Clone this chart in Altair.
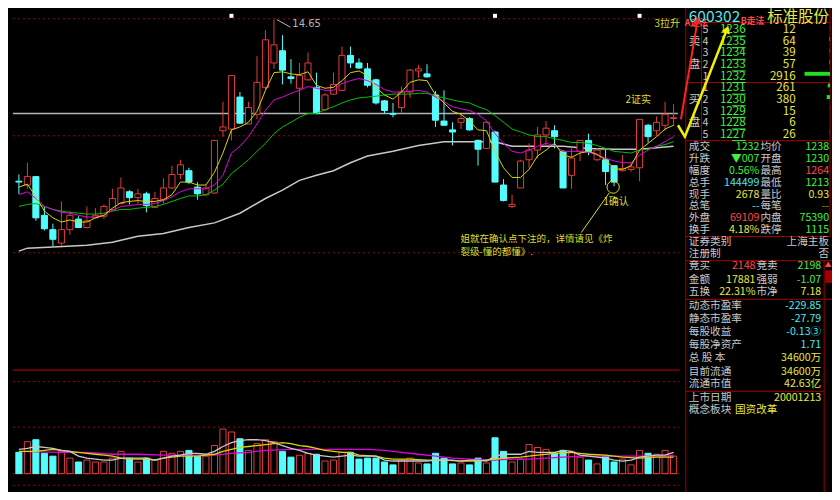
import altair as alt
import pandas as pd

# ================= DATA =================
# daily candles, price in yuan (index 0 = leftmost visible day)
OPEN = [10.81, 10.72, 10.92, 10.00, 9.66, 9.34, 9.66, 9.91, 9.71, 9.94,
        9.98, 10.14, 10.28, 10.56, 10.42, 10.51, 10.19, 10.37, 10.65, 10.97,
        11.06, 10.67, 10.49, 10.53, 12.01, 12.05, 12.81, 12.17, 12.40, 13.04,
        13.62, 13.91, 13.29, 13.02, 13.22, 13.04, 12.51, 12.88, 12.97, 13.80,
        13.62, 13.48, 13.22, 12.72, 12.42, 12.56, 12.93, 13.43, 13.36, 12.86,
        12.24, 12.03, 12.21, 12.30, 11.78, 11.59, 11.98, 10.72, 10.21, 10.65,
        11.32, 11.55, 11.91, 12.01, 11.52, 10.95, 11.52, 11.78, 11.32, 11.32,
        11.18, 11.06, 11.09, 11.13, 12.14, 12.01, 12.14, 12.30]
HIGH = [10.97, 11.25, 10.92, 10.21, 9.80, 10.33, 10.10, 9.98, 10.21, 10.17,
        10.26, 10.63, 10.90, 10.60, 10.63, 10.56, 10.56, 10.88, 11.18, 11.32,
        11.13, 10.79, 10.72, 11.78, 12.70, 13.32, 12.93, 12.70, 13.78, 14.40,
        14.65, 14.28, 13.71, 13.62, 13.87, 13.39, 12.90, 13.39, 14.01, 14.01,
        13.73, 13.62, 13.25, 12.74, 12.67, 13.06, 13.48, 13.57, 13.59, 12.95,
        12.97, 12.21, 12.40, 12.33, 11.80, 12.24, 12.01, 10.86, 10.49, 11.32,
        11.71, 12.10, 12.24, 12.14, 11.55, 11.59, 11.78, 11.94, 11.59, 11.55,
        11.18, 11.43, 11.25, 12.28, 12.17, 12.35, 12.70, 12.64]
LOW = [10.51, 10.63, 9.87, 9.64, 9.27, 9.27, 9.54, 9.71, 9.71, 9.94,
       9.91, 10.10, 10.26, 10.26, 10.28, 10.07, 10.17, 10.28, 10.63, 10.86,
       10.74, 10.37, 10.46, 10.51, 11.87, 11.78, 12.17, 12.17, 12.28, 12.97,
       13.48, 13.11, 13.13, 12.40, 13.20, 12.40, 12.47, 12.86, 12.95, 13.50,
       13.48, 13.04, 12.63, 12.42, 12.33, 12.44, 12.79, 13.27, 13.27, 12.10,
       12.14, 11.66, 12.05, 12.01, 11.18, 11.59, 10.79, 10.33, 10.17, 10.65,
       11.13, 11.36, 11.66, 11.59, 10.65, 10.63, 11.29, 11.43, 11.29, 10.72,
       10.69, 11.04, 11.04, 10.81, 11.73, 11.89, 12.01, 12.13]
CLOSE = [10.79, 10.92, 9.94, 9.68, 9.43, 9.66, 10.00, 9.71, 9.87, 10.00,
         10.21, 10.40, 10.65, 10.42, 10.51, 10.23, 10.40, 10.65, 10.97, 11.20,
         10.79, 10.51, 10.65, 11.78, 12.10, 13.32, 12.19, 12.56, 13.16, 14.17,
         14.05, 13.45, 13.25, 13.32, 13.62, 12.42, 12.86, 13.11, 13.80, 13.62,
         13.50, 13.09, 12.67, 12.49, 12.40, 12.93, 13.45, 13.48, 13.29, 12.26,
         12.14, 11.98, 12.30, 12.03, 11.57, 12.21, 10.79, 10.35, 10.26, 11.29,
         11.55, 11.91, 12.07, 11.87, 10.65, 11.36, 11.78, 11.52, 11.55, 11.04,
         10.79, 11.11, 11.15, 12.28, 11.87, 12.21, 12.40, 12.32]
# volume in lots (手)
VOLUME = [176000, 264000, 280000, 168000, 144000, 184000, 128000, 96000, 112000, 96000,
          96000, 128000, 184000, 128000, 96000, 128000, 112000, 184000, 168000, 184000,
          192000, 144000, 144000, 232000, 368000, 344000, 288000, 192000, 248000, 280000,
          264000, 184000, 136000, 152000, 168000, 160000, 104000, 112000, 176000, 176000,
          120000, 128000, 128000, 96000, 72000, 112000, 128000, 88000, 80000, 168000,
          128000, 80000, 88000, 72000, 128000, 88000, 296000, 184000, 96000, 120000,
          240000, 216000, 200000, 168000, 192000, 184000, 136000, 112000, 80000, 144000,
          96000, 120000, 72000, 192000, 168000, 160000, 192000, 144499]
# price moving averages
MA5 = [10.67, 10.74, 10.44, 10.10, 9.94, 9.84, 9.89, 9.84, 9.84, 9.94,
       10.00, 10.17, 10.30, 10.33, 10.35, 10.33, 10.33, 10.37, 10.49, 10.79,
       10.79, 10.72, 10.72, 11.02, 11.48, 12.03, 12.10, 12.21, 12.47, 12.97,
       13.39, 13.41, 13.36, 13.34, 13.41, 13.09, 13.02, 13.04, 13.20, 13.39,
       13.43, 13.32, 13.04, 12.86, 12.76, 12.93, 13.16, 13.22, 13.20, 12.86,
       12.67, 12.47, 12.40, 12.24, 12.03, 12.01, 11.52, 11.13, 10.90, 10.90,
       11.09, 11.41, 11.55, 11.71, 11.43, 11.38, 11.48, 11.52, 11.45, 11.32,
       11.11, 11.09, 11.18, 11.55, 11.71, 11.87, 12.05, 12.14]
MA10 = [10.49, 10.56, 10.40, 10.21, 10.14, 10.07, 10.05, 10.00, 9.96, 9.96,
        10.00, 10.12, 10.21, 10.23, 10.26, 10.26, 10.28, 10.35, 10.44, 10.56,
        10.63, 10.63, 10.63, 10.72, 10.95, 11.48, 11.64, 11.87, 12.17, 12.49,
        12.74, 12.81, 12.90, 12.97, 13.06, 13.02, 12.97, 12.97, 13.13, 13.20,
        13.25, 13.20, 13.11, 12.99, 12.93, 12.93, 12.95, 12.97, 12.93, 12.81,
        12.70, 12.58, 12.53, 12.49, 12.40, 12.24, 11.94, 11.71, 11.52, 11.48,
        11.55, 11.64, 11.71, 11.66, 11.52, 11.52, 11.52, 11.50, 11.43, 11.36,
        11.29, 11.25, 11.25, 11.43, 11.55, 11.64, 11.75, 11.87]
MA20 = [10.21, 10.26, 10.28, 10.21, 10.14, 10.10, 10.07, 10.05, 10.03, 10.03,
        10.05, 10.10, 10.14, 10.14, 10.17, 10.19, 10.21, 10.26, 10.33, 10.40,
        10.46, 10.46, 10.49, 10.60, 10.74, 10.99, 11.15, 11.32, 11.52, 11.71,
        11.94, 12.10, 12.21, 12.33, 12.42, 12.42, 12.51, 12.58, 12.67, 12.74,
        12.79, 12.81, 12.83, 12.86, 12.88, 12.88, 12.88, 12.90, 12.90, 12.83,
        12.79, 12.74, 12.70, 12.67, 12.58, 12.51, 12.37, 12.21, 12.05, 11.98,
        11.91, 11.87, 11.87, 11.82, 11.78, 11.73, 11.73, 11.71, 11.66, 11.59,
        11.52, 11.50, 11.48, 11.55, 11.57, 11.64, 11.68, 11.75]
MA_LONG_IDX = [0, 1, 4, 8, 11, 14, 17, 20, 23, 26, 29, 31, 33, 35, 37, 39, 41, 44,
               47, 50, 53, 56, 58, 61, 64, 67, 70, 73, 77]
MA_LONG = [9.15, 9.22, 9.25, 9.29, 9.36, 9.50, 9.57, 9.71, 9.82, 10.05, 10.40, 10.60,
           10.83, 10.95, 11.06, 11.25, 11.41, 11.52, 11.66, 11.75, 11.75, 11.75, 11.64,
           11.64, 11.64, 11.59, 11.57, 11.57, 11.64]
# volume moving averages
VMA5 = [200000, 208000, 224000, 216000, 208000, 192000, 184000, 144000, 128000, 120000,
        112000, 112000, 128000, 128000, 128000, 128000, 112000, 128000, 144000, 152000,
        168000, 168000, 160000, 184000, 224000, 256000, 272000, 280000, 280000, 272000,
        256000, 232000, 208000, 192000, 168000, 152000, 144000, 136000, 144000, 152000,
        144000, 144000, 144000, 112000, 104000, 104000, 104000, 104000, 104000, 112000,
        112000, 112000, 104000, 112000, 112000, 104000, 144000, 160000, 160000, 160000,
        184000, 176000, 176000, 176000, 192000, 184000, 152000, 144000, 136000, 128000,
        112000, 104000, 112000, 136000, 144000, 152000, 152000, 176000]
VMA10_IDX = [0, 2, 4, 5, 6, 7, 8, 9, 10, 11, 12, 13, 15, 16, 17, 18, 19, 21, 22, 23,
             24, 25, 26, 27, 28, 29, 30, 31, 32, 33, 34, 35, 36, 37, 38, 39, 40, 42, 43,
             44, 46, 48, 50, 52, 54, 55, 56, 57, 59, 61, 63, 65, 66, 67, 69, 71, 73, 75, 77]
VMA10 = [184000, 184000, 200000, 192000, 184000, 176000, 168000, 160000, 152000, 144000,
         128000, 120000, 120000, 112000, 128000, 136000, 144000, 144000, 152000, 160000,
         184000, 200000, 216000, 224000, 232000, 240000, 248000, 256000, 248000, 232000,
         224000, 208000, 192000, 184000, 176000, 176000, 152000, 144000, 128000, 120000,
         120000, 112000, 112000, 104000, 104000, 112000, 120000, 128000, 136000, 152000,
         168000, 176000, 168000, 160000, 152000, 136000, 128000, 136000, 136000]
VMA20_IDX = [0, 5, 8, 11, 14, 17, 20, 23, 25, 27, 29, 32, 35, 39, 41, 43, 45, 47, 49,
             51, 53, 56, 58, 60, 62, 64, 66, 68, 70, 72, 74, 76, 77]
VMA20 = [184000, 176000, 176000, 160000, 160000, 152000, 152000, 152000, 168000, 176000,
         192000, 200000, 200000, 200000, 200000, 192000, 176000, 160000, 144000, 128000,
         120000, 112000, 120000, 120000, 128000, 136000, 144000, 144000, 144000, 144000,
         144000, 144000, 152000]

# chart guides and notes
GRID_PRICES = [14.67, 11.89, 9.11]
REF_PRICE = 12.42
GRID_VOLS = [760000, 384000, -96000]
VOL_PANEL_TOP = 856000
MARKER_IDX = [25, 56, 73]
MARKER_PRICE = 14.74
HIGH_TEXT = "14.65"
NOTE_1 = "1确认"
NOTE_2 = "2证实"
NOTE_3 = "3拉升"
NOTE_LONG_1 = "姐就在确认点下注的，详情请见《炸"
NOTE_LONG_2 = "裂级-懂的都懂》."
RED_ARROW_I = [77.27, 79.2]
RED_ARROW_P = [12.28, 14.63]
YEL_ARROW_I = [76.93, 77.73, 82.61]
YEL_ARROW_P = [12.14, 11.87, 14.42]

# quote panel
STOCK_CODE = "600302"
STOCK_NAME = "标准股份"
ASK_LEVELS = ["5", "4", "3", "2", "1"]
ASK_PRICES = ["1236", "1235", "1234", "1233", "1232"]
ASK_VOLS = [12, 64, 39, 57, 2916]
BID_LEVELS = ["1", "2", "3", "4", "5"]
BID_PRICES = ["1231", "1230", "1229", "1228", "1227"]
BID_VOLS = [261, 380, 15, 6, 26]
Q_LABEL_L = ["成交", "升跌", "幅度", "总手", "现手", "总笔", "外盘", "换手"]
Q_VALUE_L = ["1232", "▼007", "0.56%", "144499", "2678", "--", "69109", "4.18%"]
Q_LABEL_R = ["均价", "开盘", "最高", "最低", "量比", "每笔", "内盘", "跌停"]
Q_VALUE_R = ["1238", "1230", "1264", "1213", "0.93", "--", "75390", "1115"]
INFO_LABEL = ["证券类别", "注册制"]
INFO_VALUE = ["上海主板", "否"]
B_LABEL_L = ["竞买", "金额", "五换"]
B_VALUE_L = ["2148", "17881", "22.31%"]
B_LABEL_R = ["竞卖", "强弱", "市净"]
B_VALUE_R = ["2198", "-1.07", "7.18"]
F_LABEL = ["动态市盈率", "静态市盈率", "每股收益", "每股净资产", "总 股 本", "目前流通",
           "流通市值", "上市日期", "概念板块"]
F_VALUE = ["-229.85", "-27.79", "-0.13③", "1.71", "34600万", "34600万", "42.63亿",
           "20001213", "国资改革"]

# ================= STYLE =================
RED = "#E03C3C"
CYAN = "#54FCFC"
C_MA5 = "#D6D600"
C_MA10 = "#E000E0"
C_MA20 = "#00C000"
C_MAL = "#C8C8C8"
FRAME = "#A00000"
G = "#40F040"; Y = "#E8E840"; C = "#50E8E8"; R = "#FF4848"; GR = "#C8C8C8"; DY = "#A0A000"
NOTE = "#DCDC30"
FONT = "Noto Sans CJK SC"

W, H = 824, 484
SX, SY = W / 840, H / 500
def rx(v): return v * SX
def ry(v): return v * SY

P_TOP, P_PX = 14.926, 0.023
V_PX = 8000
IDX = alt.Scale(domain=[0, 77], range=[rx(6), rx(6 + 8.8 * 77)], nice=False, zero=False)
PRICE = alt.Scale(domain=[P_TOP - P_PX * 374, P_TOP], range=[ry(374), ry(0)], nice=False, zero=False)
VOLS = alt.Scale(domain=[-V_PX * (500 - 481), V_PX * (481 - 374)], range=[ry(500), ry(374)], nice=False, zero=False)
PXS = alt.Scale(domain=[0, 840], range=[0, W], nice=False, zero=False)
PYS = alt.Scale(domain=[0, 500], range=[0, H], nice=False, zero=False)

def xi(f): return alt.X(f + ":Q", scale=IDX, axis=None)
def yp(f): return alt.Y(f + ":Q", scale=PRICE, axis=None)
def yv(f): return alt.Y(f + ":Q", scale=VOLS, axis=None)
def px(f): return alt.X(f + ":Q", scale=PXS, axis=None)
def py(f): return alt.Y(f + ":Q", scale=PYS, axis=None)

n = len(OPEN)
cdf = pd.DataFrame({"i": list(range(n)), "open": OPEN, "high": HIGH, "low": LOW,
                    "close": CLOSE, "vol": VOLUME})
cdf["dir"] = ["up" if c >= o else "down" for o, c in zip(OPEN, CLOSE)]
BW = rx(6.2)

# ---------- price panel ----------
grid = alt.Chart(pd.DataFrame({"p": GRID_PRICES, "a": -0.7, "b": 77.7})).mark_rule(
    color=FRAME, strokeDash=[2, 3], strokeWidth=1).encode(x=xi("a"), x2="b", y=yp("p"))
refl = alt.Chart(pd.DataFrame({"p": [REF_PRICE], "a": -0.7, "b": 77.5})).mark_rule(
    color="#B4B4B4", strokeWidth=1.5).encode(x=xi("a"), x2="b", y=yp("p"))
mal = alt.Chart(pd.DataFrame({"i": MA_LONG_IDX, "v": MA_LONG})).mark_line(
    color=C_MAL, strokeWidth=1.5).encode(x=xi("i"), y=yp("v"))
base = alt.Chart(cdf)
wick_up = base.transform_filter("datum.dir == 'up'").mark_rule(color=RED, strokeWidth=1).encode(
    x=xi("i"), y=yp("low"), y2="high")
wick_dn = base.transform_filter("datum.dir == 'down'").mark_rule(color=CYAN, strokeWidth=1).encode(
    x=xi("i"), y=yp("low"), y2="high")
body_up = base.transform_filter("datum.dir == 'up'").mark_bar(
    size=BW, fill="#000000", stroke=RED, strokeWidth=1).encode(x=xi("i"), y=yp("open"), y2="close")
body_dn = base.transform_filter("datum.dir == 'down'").mark_bar(
    size=BW, fill=CYAN, stroke=CYAN, strokeWidth=1).encode(x=xi("i"), y=yp("open"), y2="close")

def ma_line(vals, color, idx=None):
    d = pd.DataFrame({"i": idx if idx is not None else list(range(len(vals))), "v": vals})
    return alt.Chart(d).mark_line(color=color, strokeWidth=1).encode(x=xi("i"), y=yp("v"))

ma20 = ma_line(MA20, C_MA20)
ma10 = ma_line(MA10, C_MA10)
ma5 = ma_line(MA5, C_MA5)
markers = alt.Chart(pd.DataFrame({"i": MARKER_IDX, "p": MARKER_PRICE})).mark_point(
    shape="square", filled=True, color="#FFFFFF", size=16, opacity=1).encode(x=xi("i"), y=yp("p"))
hi_ptr = alt.Chart(pd.DataFrame({"i": [30.34, 31.93], "p": [14.65, 14.47]})).mark_line(
    color="#B4B4B4", strokeWidth=1).encode(x=xi("i"), y=yp("p"))
hi_txt = alt.Chart(pd.DataFrame({"i": [32.16], "p": [14.535], "t": [HIGH_TEXT]})).mark_text(
    align="left", baseline="middle", font="DejaVu Sans", fontSize=10, color="#B4B4B4").encode(
    x=xi("i"), y=yp("p"), text="t:N")
notes = alt.Chart(pd.DataFrame({"i": [76.25, 72.84, 70.23], "p": [14.535, 12.74, 10.31],
                                "t": [NOTE_3, NOTE_2, NOTE_1]})).mark_text(
    align="center", baseline="middle", font=FONT, fontSize=10, color=NOTE).encode(
    x=xi("i"), y=yp("p"), text="t:N")
long_notes = alt.Chart(pd.DataFrame({"i": [51.93, 51.93], "p": [9.44, 9.14],
                                     "t": [NOTE_LONG_1, NOTE_LONG_2]})).mark_text(
    align="left", baseline="middle", font=FONT, fontSize=9.5, color=NOTE).encode(
    x=xi("i"), y=yp("p"), text="t:N")
circ = alt.Chart(pd.DataFrame({"i": [69.89], "p": [10.67]})).mark_point(
    shape="circle", filled=False, color=NOTE, size=150, strokeWidth=1, opacity=1).encode(
    x=xi("i"), y=yp("p"))
circ_line = alt.Chart(pd.DataFrame({"i": [66.14, 69.43], "p": [9.59, 10.53]})).mark_line(
    color=NOTE, strokeWidth=1).encode(x=xi("i"), y=yp("p"))

price_group = alt.layer(grid, refl, mal, wick_up, wick_dn, body_up, body_dn, ma20, ma10, ma5,
                        markers, hi_ptr, hi_txt, notes, long_notes, circ, circ_line)

# ---------- volume panel ----------
vtop = alt.Chart(pd.DataFrame({"v": [VOL_PANEL_TOP, 0], "a": -0.7, "b": 77.7})).mark_rule(
    color=FRAME, strokeWidth=1.2).encode(x=xi("a"), x2="b", y=yv("v"))
vgrid = alt.Chart(pd.DataFrame({"v": GRID_VOLS, "a": -0.7, "b": 77.7})).mark_rule(
    color=FRAME, strokeDash=[2, 3], strokeWidth=1).encode(x=xi("a"), x2="b", y=yv("v"))
vbar_up = base.transform_filter("datum.dir == 'up'").mark_bar(
    size=BW, fill="#000000", stroke=RED, strokeWidth=1).encode(x=xi("i"), y=yv("vol"), y2=alt.datum(0))
vbar_dn = base.transform_filter("datum.dir == 'down'").mark_bar(
    size=BW, fill=CYAN, stroke=CYAN, strokeWidth=1).encode(x=xi("i"), y=yv("vol"), y2=alt.datum(0))

def vma_line(vals, color, idx=None):
    d = pd.DataFrame({"i": idx if idx is not None else list(range(len(vals))), "v": vals})
    return alt.Chart(d).mark_line(color=color, strokeWidth=1.3).encode(x=xi("i"), y=yv("v"))

vol_group = alt.layer(vtop, vgrid, vbar_up, vbar_dn,
                      vma_line(VMA20, C_MA10, VMA20_IDX),
                      vma_line(VMA10, C_MA5, VMA10_IDX),
                      vma_line(VMA5, C_MAL))

# ---------- quote panel ----------
rows = []
def put(text, x, y, color, align="left", size=11, weight="normal"):
    rows.append({"text": text, "x": x, "y": y, "color": color, "align": align,
                 "size": size * SY, "weight": weight})

put(STOCK_CODE, 694, 9, C, "left", 16)
put(STOCK_NAME, 837, 9, Y, "right", 16)
put("A走法", 690, 15, R, "left", 9, "bold")
put("B走法", 747, 13, R, "left", 9, "bold")
ask_y = [23, 35, 47, 59, 71]
bid_y = [83, 95, 107, 119, 131]
for k in range(5):
    put(ASK_LEVELS[k], 711, ask_y[k], GR, "center")
    put(ASK_PRICES[k], 752, ask_y[k], G, "right", 12)
    put(str(ASK_VOLS[k]), 803, ask_y[k], Y, "right", 12)
    put(BID_LEVELS[k], 711, bid_y[k], GR, "center")
    put(BID_PRICES[k], 752, bid_y[k], G, "right", 12)
    put(str(BID_VOLS[k]), 803, bid_y[k], Y, "right", 12)
for t, yy in [("卖", 35), ("盘", 59), ("买", 95), ("盘", 119)]:
    put(t, 700, yy, GR, "center", 12)
q_y = [144, 156, 168, 181, 193, 205, 217, 229]
q_cl = [G, G, G, C, Y, C, R, Y]
q_cr = [G, G, R, G, Y, DY, G, G]
for k in range(8):
    put(Q_LABEL_L[k], 694, q_y[k], GR)
    put(Q_VALUE_L[k], 766, q_y[k], q_cl[k], "right")
    put(Q_LABEL_R[k], 767, q_y[k], GR)
    put(Q_VALUE_R[k], 837, q_y[k], q_cr[k], "right")
for k, yy in enumerate([242, 254]):
    put(INFO_LABEL[k], 694, yy, GR)
    put(INFO_VALUE[k], 837, yy, GR, "right")
b_y = [267, 281, 293]
b_cl = [R, Y, Y]
b_cr = [G, G, Y]
for k in range(3):
    put(B_LABEL_L[k], 694, b_y[k], GR)
    put(B_VALUE_L[k], 762, b_y[k], b_cl[k], "right")
    put(B_LABEL_R[k], 763, b_y[k], GR)
    put(B_VALUE_R[k], 829, b_y[k], b_cr[k], "right")
f_y = [308, 321, 335, 348, 362, 376, 388, 403, 415]
f_c = [C, C, C, C, Y, Y, Y, Y, Y]
for k in range(9):
    put(F_LABEL[k], 694, f_y[k], GR)
    if k < 8:
        put(F_VALUE[k], 829, f_y[k], f_c[k], "right")
    else:
        put(F_VALUE[k], 741, f_y[k], f_c[k], "left")
put("▲", 836, 266, R, "center", 7)

tdf = pd.DataFrame(rows)
text_layers = []
for (al, wt), sub in tdf.groupby(["align", "weight"]):
    text_layers.append(alt.Chart(sub).mark_text(align=al, baseline="middle", font=FONT,
                                                fontWeight=wt).encode(
        x=px("x"), y=py("y"), text="text:N",
        color=alt.Color("color:N", scale=None), size=alt.Size("size:Q", scale=None)))

lines = pd.DataFrame([
    (691, 838, 15, 15), (691, 838, 77, 77), (691, 838, 137, 137), (691, 838, 236, 236),
    (691, 840, 261, 261), (691, 840, 301, 301), (691, 832, 396, 396),
    (691, 691, 0, 500), (707, 707, 15, 137), (838, 838, 0, 236), (832, 832, 261, 500)],
    columns=["x0", "x1", "y0", "y1"])
panel_lines = alt.Chart(lines).mark_rule(color=FRAME, strokeWidth=1).encode(
    x=px("x0"), x2="x1", y=py("y0"), y2="y1")
uline = pd.DataFrame({"x0": 738, "x1": 752, "y": [v + 6 for v in ask_y + bid_y]})
underlines = alt.Chart(uline).mark_rule(color=G, strokeWidth=1).encode(
    x=px("x0"), x2="x1", y=py("y"))
scroll = alt.Chart(pd.DataFrame({"x0": [833], "x1": [840], "y0": [271], "y1": [284]})).mark_rect(
    color=FRAME).encode(x=px("x0"), x2="x1", y=py("y0"), y2="y1")
panel_group = alt.layer(panel_lines, underlines, scroll, *text_layers)

# ---------- order-book volume bars ----------
BOOKX = alt.Scale(domain=[0, 2916], range=[rx(838), rx(812)], nice=False, zero=False)
bk = pd.DataFrame({"vol": ASK_VOLS + BID_VOLS, "y0": [v - 5 for v in ask_y + bid_y],
                   "y1": [v - 1 for v in ask_y + bid_y]})
book_group = alt.Chart(bk).mark_rect(color="#20E020").encode(
    x=alt.X("vol:Q", scale=BOOKX, axis=None), x2=alt.datum(0), y=py("y0"), y2="y1")

# ---------- arrows ----------
red_arrow = alt.Chart(pd.DataFrame({"i": RED_ARROW_I, "p": RED_ARROW_P})).mark_line(
    color="#FF2020", strokeWidth=2).encode(x=xi("i"), y=yp("p"))
red_head = alt.Chart(pd.DataFrame({"i": RED_ARROW_I[-1:], "p": RED_ARROW_P[-1:]})).mark_point(
    shape="triangle-up", filled=True, color="#FF2020", size=70, angle=10, opacity=1).encode(
    x=xi("i"), y=yp("p"))
yel_arrow = alt.Chart(pd.DataFrame({"i": YEL_ARROW_I, "p": YEL_ARROW_P})).mark_line(
    color="#F0F000", strokeWidth=2.5).encode(x=xi("i"), y=yp("p"))
yel_head = alt.Chart(pd.DataFrame({"i": YEL_ARROW_I[-1:], "p": YEL_ARROW_P[-1:]})).mark_point(
    shape="triangle-up", filled=True, color="#F0F000", size=80, angle=21, opacity=1).encode(
    x=xi("i"), y=yp("p"))
arrow_group = alt.layer(red_arrow, yel_arrow, red_head, yel_head)

chart = alt.layer(price_group, vol_group, panel_group, book_group, arrow_group).resolve_scale(
    x="independent", y="independent"
).properties(
    width=W, height=H, padding=0, background="#000000",
    autosize=alt.AutoSizeParams(type="none")
).configure_view(strokeWidth=0)

chart.save("out.html", embed_options={"renderer": "svg", "actions": False})
